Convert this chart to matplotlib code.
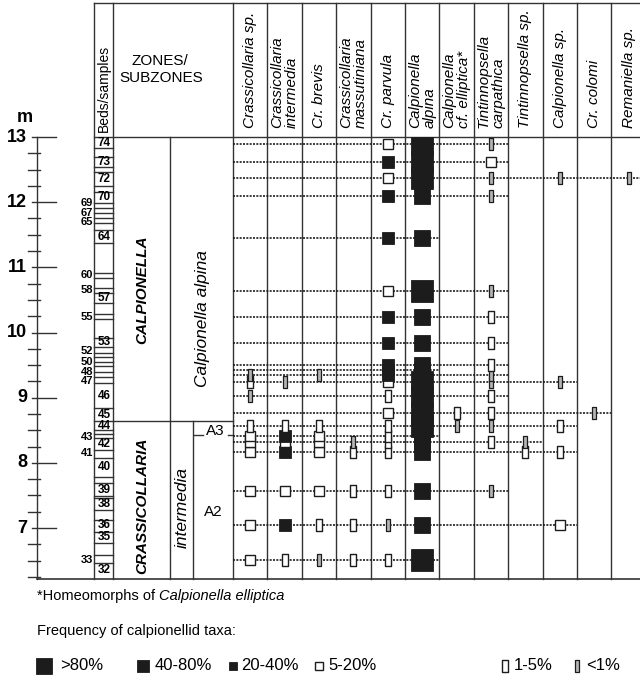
import matplotlib
matplotlib.use('Agg')
import matplotlib.pyplot as plt
from matplotlib.path import Path
from matplotlib.patches import Rectangle

plt.rcParams['font.family'] = ['Liberation Sans', 'DejaVu Sans']

# sample levels (m), top to bottom
depth = [12.89, 12.62, 12.37, 12.10, 11.45, 10.64, 10.24, 9.84, 9.50, 9.43, 9.35,
         9.24, 9.03, 8.76, 8.56, 8.41, 8.32, 8.17, 7.57, 7.05, 6.51]

taxa = ['Crassicollaria sp.', 'Crassicollaria\nintermedia', 'Cr. brevis',
        'Crassicollaria\nmassutiniana', 'Cr. parvula', 'Calpionella\nalpina',
        'Calpionella\ncf. elliptica*', 'Tintinnopsella\ncarpathica',
        'Tintinnopsella sp.', 'Calpionella sp.', 'Cr. colomi', 'Remaniella sp.']

# frequency class per sample: 0 absent, 1 <1%, 2 1-5%, 3 5-20%, 4 20-40%, 5 40-80%, 6 >80%
crass_sp      = [0, 0, 0, 0, 0, 0, 0, 0, 0, 0, 1, 2, 1, 0, 2, 3, 3, 3, 3, 3, 3]
cr_intermedia = [0, 0, 0, 0, 0, 0, 0, 0, 0, 0, 0, 1, 0, 0, 2, 4, 3, 4, 3, 4, 2]
cr_brevis     = [0, 0, 0, 0, 0, 0, 0, 0, 0, 0, 1, 0, 0, 0, 2, 3, 3, 3, 3, 2, 1]
cr_massut     = [0, 0, 0, 0, 0, 0, 0, 0, 0, 0, 0, 0, 0, 0, 0, 0, 1, 2, 2, 2, 2]
cr_parvula    = [3, 4, 3, 4, 4, 3, 4, 4, 4, 4, 4, 3, 2, 3, 2, 2, 2, 2, 2, 1, 2]
c_alpina      = [6, 6, 6, 5, 5, 6, 5, 5, 5, 5, 5, 6, 6, 6, 6, 5, 5, 5, 5, 5, 6]
c_elliptica   = [0, 0, 0, 0, 0, 0, 0, 0, 0, 0, 0, 0, 0, 2, 1, 0, 0, 0, 0, 0, 0]
t_carpathica  = [1, 3, 1, 1, 0, 1, 2, 2, 2, 0, 1, 1, 2, 2, 1, 0, 2, 0, 1, 0, 0]
tintinn_sp    = [0, 0, 0, 0, 0, 0, 0, 0, 0, 0, 0, 0, 0, 0, 0, 0, 1, 2, 0, 0, 0]
calpion_sp    = [0, 0, 1, 0, 0, 0, 0, 0, 0, 0, 0, 1, 0, 0, 2, 0, 0, 2, 0, 3, 0]
cr_colomi     = [0, 0, 0, 0, 0, 0, 0, 0, 0, 0, 0, 0, 0, 1, 0, 0, 0, 0, 0, 0, 0]
remaniella_sp = [0, 0, 1, 0, 0, 0, 0, 0, 0, 0, 0, 0, 0, 0, 0, 0, 0, 0, 0, 0, 0]

freq = [crass_sp, cr_intermedia, cr_brevis, cr_massut, cr_parvula, c_alpina,
        c_elliptica, t_carpathica, tintinn_sp, calpion_sp, cr_colomi, remaniella_sp]

# beds column
bed_bounds = [12.83, 12.69, 12.54, 12.46, 12.25, 12.16, 11.99, 11.91, 11.83, 11.76,
              11.68, 11.57, 11.37, 10.91, 10.84, 10.68, 10.61, 10.45, 10.29, 10.21,
              9.92, 9.78, 9.69, 9.63, 9.55, 9.49, 9.40, 9.32, 9.23, 8.84, 8.64, 8.51,
              8.44, 8.38, 8.20, 8.08, 7.79, 7.69, 7.49, 7.46, 7.28, 7.13, 6.94, 6.77,
              6.59, 6.47]
beds_in = ['74', '73', '72', '70', '64', '57', '53', '46', '45', '44', '42',
           '40', '39', '38', '36', '35', '32']
beds_in_m = [12.91, 12.61, 12.36, 12.08, 11.47, 10.53, 9.85, 9.03, 8.74, 8.57, 8.29,
             7.93, 7.59, 7.37, 7.04, 6.86, 6.35]
beds_out = ['69', '67', '65', '60', '58', '55', '52', '50', '48', '47', '43', '41', '33']
beds_out_m = [11.99, 11.84, 11.70, 10.88, 10.65, 10.24, 9.72, 9.54, 9.40, 9.25,
              8.40, 8.15, 6.51]

zone_boundary = 8.64
a3_base = 8.42
base = 6.22
top = 13.0

legend_labels = ['>80%', '40-80%', '20-40%', '5-20%', '1-5%', '<1%']
legend_classes = [6, 5, 4, 3, 2, 1]

# layout (pixel based along x, metres along y)
PX_PER_M = 65.17


def py(p):
    return 13 + (137 - p) / PX_PER_M


X_AXIS = 37
X_BED0, X_BED1 = 94, 113
X_ZONE1 = 170
X_SUB2 = 193
X0, W = 233, 34.4
INK = '#1c1c1c'
LINE = '#333333'


def rect(w):
    return Path([(-w, -1), (w, -1), (w, 1), (-w, 1), (-w, -1)],
                [Path.MOVETO, Path.LINETO, Path.LINETO, Path.LINETO, Path.CLOSEPOLY])


styles = {
    6: dict(marker='s', ms=15.5, mfc=INK, mec=INK, mew=0.6),
    5: dict(marker='s', ms=12.2, mfc=INK, mec=INK, mew=0.6),
    4: dict(marker='s', ms=8.0, mfc=INK, mec=INK, mew=0.6),
    3: dict(marker='s', ms=7.4, mfc='white', mec=INK, mew=1.0),
    2: dict(marker=rect(0.5), ms=8.0, mfc='white', mec=INK, mew=1.0),
    1: dict(marker=rect(0.3), ms=8.0, mfc='#b5b5b5', mec=INK, mew=0.9),
}
# legend symbols are drawn a bit smaller than in the chart
legend_ms = {6: 11.0, 5: 8.2, 4: 6.0, 3: 5.8, 2: 8.0, 1: 8.0}
legend_gap = {6: 16, 5: 12, 4: 8, 3: 9, 2: 9, 1: 9}

fig = plt.figure(figsize=(6.4, 6.83), dpi=100)
ax = fig.add_axes([0, 0, 1, 1])
ax.set_xlim(0, 640)
ax.set_ylim(py(683), py(0))
ax.axis('off')

hdr_top = py(3)

# frame lines
ax.plot([X_BED0, 640], [hdr_top, hdr_top], color=LINE, lw=1.0)
ax.plot([X_BED0, 640], [top, top], color=LINE, lw=1.0)
ax.plot([X_AXIS, 640], [base, base], color=LINE, lw=1.2)
for x in [X_BED0, X_BED1] + [X0 + i * W for i in range(len(taxa))]:
    ax.plot([x, x], [base, hdr_top], color=LINE, lw=1.0)
ax.plot([X_ZONE1, X_ZONE1], [base, top], color=LINE, lw=1.0)
ax.plot([X_SUB2, X_SUB2], [base, zone_boundary], color=LINE, lw=1.0)
ax.plot([X_BED1, X0], [zone_boundary, zone_boundary], color=LINE, lw=1.0)
ax.plot([X_SUB2 + 1, 203], [a3_base, a3_base], color=LINE, lw=1.0)
ax.plot([228, X0], [a3_base, a3_base], color=LINE, lw=1.0)

# metre scale
ax.plot([X_AXIS, X_AXIS], [base, top], color=LINE, lw=1.0)
for k in range(25, 53):
    m = k * 0.25
    if m > top or m < base:
        continue
    if m == int(m):
        ax.plot([32, 56], [m, m], color=LINE, lw=1.0)
        ax.text(27, m, str(int(m)), ha='right', va='center', fontsize=13,
                fontweight='bold')
    else:
        ax.plot([28, 40], [m, m], color=LINE, lw=1.0)
ax.text(25, py(117), 'm', ha='center', va='center', fontsize=13, fontweight='bold')

# beds
for b in bed_bounds:
    ax.plot([X_BED0, X_BED1], [b, b], color=LINE, lw=1.0)
for lab, m in zip(beds_in, beds_in_m):
    ax.text(104, m, lab, ha='center', va='center', fontsize=8.5, fontweight='bold')
for lab, m in zip(beds_out, beds_out_m):
    ax.text(93, m, lab, ha='right', va='center', fontsize=8, fontweight='bold')

# zones / subzones
ax.text(142, py(290), 'CALPIONELLA', rotation=90, ha='center', va='center',
        fontsize=11, fontweight='bold', style='italic')
ax.text(142, py(506), 'CRASSICOLLARIA', rotation=90, ha='center', va='center',
        fontsize=11, fontweight='bold', style='italic')
ax.text(203, py(319), 'Calpionella alpina', rotation=90, ha='center', va='center',
        fontsize=12.5, style='italic')
ax.text(182, py(507), 'intermedia', rotation=90, ha='center', va='center',
        fontsize=12.5, style='italic')
ax.text(215, a3_base, 'A3', ha='center', va='baseline', fontsize=11)
ax.text(213, py(512), 'A2', ha='center', va='center', fontsize=11)

# header
ax.text(104, py(132), 'Beds/samples', rotation=90, ha='center', va='bottom', fontsize=10)
ax.text(160, py(61), 'ZONES/', ha='center', va='center', fontsize=11)
ax.text(161, py(78), 'SUBZONES', ha='center', va='center', fontsize=11)
for i, name in enumerate(taxa):
    xc = X0 + (i + 0.5) * W
    lines = name.split('\n')
    offs = [0] if len(lines) == 1 else [-7, 7]
    for ln, dx in zip(lines, offs):
        ax.text(xc + dx, py(128), ln, rotation=90, ha='center', va='bottom',
                fontsize=11, style='italic')

# sample lines
clip = Rectangle((X0, base), 640 - X0, top - base, transform=ax.transData)
for i, d in enumerate(depth):
    present = [j for j in range(len(taxa)) if freq[j][i] > 0]
    x_end = min(640, X0 + (max(present) + 1) * W)
    ax.plot([X0, x_end], [d, d], color=INK, lw=1.2, ls=(0, (1.2, 0.8)), zorder=2)

# frequency markers, lower samples first so upper ones overlap them
for i in reversed(range(len(depth))):
    for j in range(len(taxa)):
        c = freq[j][i]
        if c == 0:
            continue
        ln, = ax.plot(X0 + (j + 0.5) * W, depth[i], ls='none', zorder=3, **styles[c])
        ln.set_clip_path(clip)

# notes and legend
note = ax.text(37, py(596), '*Homeomorphs of ', ha='left', va='center', fontsize=10.5)
ax.annotate('Calpionella elliptica', xy=(1, 0.5), xycoords=note, ha='left',
            va='center', fontsize=10.5, style='italic')
ax.text(37, py(631), 'Frequency of calpionellid taxa:', ha='left', va='center',
        fontsize=10.5)
leg_x = [44, 143, 233, 319, 505, 577]
for x, lab, c in zip(leg_x, legend_labels, legend_classes):
    st = dict(styles[c])
    st['ms'] = legend_ms[c]
    ax.plot(x, py(666), ls='none', **st)
    ax.text(x + legend_gap[c], py(666), lab, ha='left', va='center', fontsize=12)

fig.savefig('out.png', dpi=100)
